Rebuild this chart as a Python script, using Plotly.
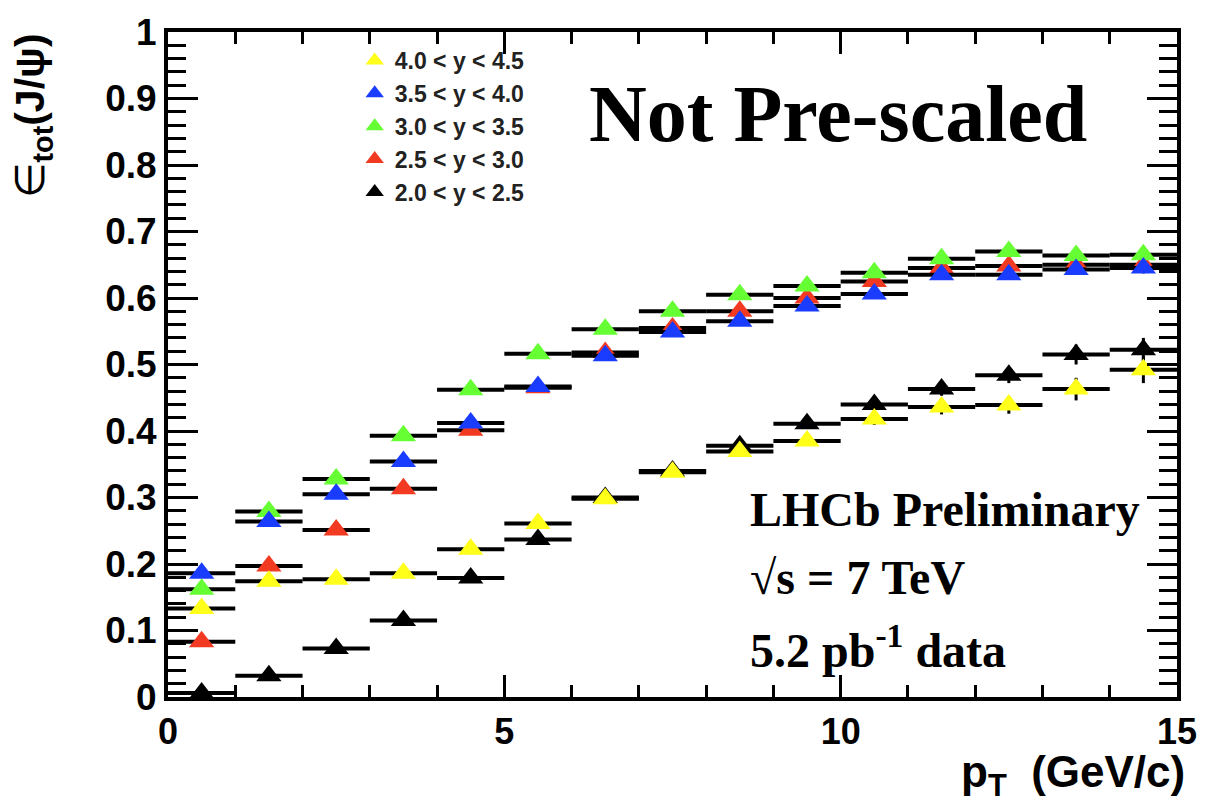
import plotly.graph_objects as go

# ---------------- data ----------------
pt_centers = [0.5, 1.5, 2.5, 3.5, 4.5, 5.5, 6.5, 7.5, 8.5, 9.5, 10.5, 11.5, 12.5, 13.5, 14.5]
pt_halfwidth = [0.5] * 15

eff_y40_45 = [0.133, 0.174, 0.177, 0.186, 0.222, 0.261, 0.298, 0.338, 0.369, 0.385, 0.418, 0.436, 0.439, 0.463, 0.492]
eff_y35_40 = [0.186, 0.264, 0.305, 0.354, 0.412, 0.467, 0.513, 0.549, 0.565, 0.588, 0.606, 0.635, 0.635, 0.643, 0.645]
eff_y30_35 = [0.162, 0.279, 0.328, 0.393, 0.462, 0.516, 0.553, 0.580, 0.605, 0.618, 0.638, 0.659, 0.670, 0.664, 0.665]
eff_y25_30 = [0.083, 0.197, 0.251, 0.313, 0.401, 0.465, 0.518, 0.555, 0.580, 0.600, 0.625, 0.645, 0.648, 0.650, 0.650]
eff_y20_25 = [0.006, 0.032, 0.073, 0.115, 0.179, 0.237, 0.300, 0.340, 0.378, 0.411, 0.440, 0.463, 0.484, 0.515, 0.522]

err_y40_45 = [0.003, 0.002, 0.002, 0.002, 0.003, 0.003, 0.004, 0.005, 0.006, 0.007, 0.009, 0.011, 0.013, 0.017, 0.020]
err_y35_40 = [0.003, 0.002, 0.002, 0.002, 0.002, 0.003, 0.003, 0.003, 0.004, 0.004, 0.005, 0.005, 0.006, 0.007, 0.008]
err_y30_35 = [0.003, 0.002, 0.002, 0.002, 0.002, 0.003, 0.003, 0.003, 0.004, 0.004, 0.005, 0.005, 0.006, 0.007, 0.008]
err_y25_30 = [0.003, 0.002, 0.002, 0.002, 0.002, 0.003, 0.003, 0.003, 0.004, 0.004, 0.005, 0.005, 0.006, 0.007, 0.008]
err_y20_25 = [0.002, 0.002, 0.002, 0.003, 0.003, 0.003, 0.004, 0.005, 0.006, 0.007, 0.008, 0.010, 0.012, 0.015, 0.018]

labels = ["4.0 < y < 4.5", "3.5 < y < 4.0", "3.0 < y < 3.5", "2.5 < y < 3.0", "2.0 < y < 2.5"]
colors = ["#ffff1a", "#1a3cff", "#66ff33", "#f23a22", "#000000"]
series = [eff_y40_45, eff_y35_40, eff_y30_35, eff_y25_30, eff_y20_25]
errors = [err_y40_45, err_y35_40, err_y30_35, err_y25_30, err_y20_25]

SANS = "Liberation Sans, Arial, Helvetica, sans-serif"
SERIF = "Liberation Serif, Times New Roman, serif"

fig = go.Figure()

# draw order: black, red, green, blue, yellow (legend reversed)
for i in [4, 3, 2, 1, 0]:
    fig.add_trace(go.Scatter(
        x=pt_centers, y=series[i], mode="markers", name=labels[i],
        marker=dict(symbol="triangle-up", size=22, color=colors[i], line=dict(width=0)),
        error_x=dict(type="data", array=pt_halfwidth, symmetric=True, color="black", thickness=4, width=0),
        error_y=dict(type="data", array=errors[i], symmetric=True, color="black", thickness=3, width=0),
    ))

L, R, T, B = 168, 25, 27, 110
W, H = 1209, 807
pw, ph = W - L - R, H - T - B

fig.update_layout(
    width=W, height=H,
    margin=dict(l=L, r=R, t=T, b=B, pad=0),
    paper_bgcolor="white", plot_bgcolor="white",
    showlegend=True,
    legend=dict(
        traceorder="reversed",
        x=(356 - L) / pw, xanchor="left",
        y=1 - (34 - T) / ph, yanchor="top",
        bgcolor="rgba(0,0,0,0)",
        font=dict(family=SANS, size=23, color="#222222", weight="bold"),
        itemsizing="trace",
        tracegroupgap=0,
    ),
    xaxis=dict(
        range=[0, 15], showgrid=False, zeroline=False,
        showline=True, linecolor="black", linewidth=4, mirror="ticks",
        ticks="inside", tickcolor="black", tickwidth=3, ticklen=22, dtick=5, tick0=0,
        minor=dict(ticks="inside", dtick=1, ticklen=12, tickwidth=3, tickcolor="black", showgrid=False),
        tickfont=dict(family=SANS, size=36, color="black", weight="bold"),
    ),
    yaxis=dict(
        range=[0, 1], showgrid=False, zeroline=False,
        showline=True, linecolor="black", linewidth=4, mirror="ticks",
        ticks="inside", tickcolor="black", tickwidth=3, ticklen=30, dtick=0.1, tick0=0,
        minor=dict(ticks="inside", dtick=0.02, ticklen=18, tickwidth=3, tickcolor="black", showgrid=False),
        tickfont=dict(family=SANS, size=37, color="black", weight="bold"),
    ),
)

# axis titles
fig.add_annotation(
    xref="paper", yref="paper", x=(1194 - L) / pw, y=-(745 - (H - B)) / ph,
    xanchor="right", yanchor="top", showarrow=False,
    text="<b>p<sub>T</sub>&nbsp;&nbsp;(GeV/c)</b>",
    font=dict(family=SANS, size=44, color="black"),
)
fig.add_annotation(
    xref="paper", yref="paper", x=-(L - 32) / pw, y=1 - (26 - T) / ph,
    xanchor="center", yanchor="top", showarrow=False, textangle=-90,
    text="∈<sub><b>tot</b></sub><b>(J/ψ)</b>",
    font=dict(family=SANS, size=41, color="black"),
)

# text blocks
fig.add_annotation(
    xref="paper", yref="paper", x=(843 - L) / pw, y=1 - (110 - T) / ph,
    xanchor="center", yanchor="middle", showarrow=False,
    text="<b>Not Pre-scaled</b>",
    font=dict(family=SERIF, size=80, color="black"),
)
for txt, yc in [("<b>LHCb Preliminary</b>", 508), ("<b>√s = 7 TeV</b>", 577), ("<b>5.2 pb<sup>-1</sup> data</b>", 647)]:
    fig.add_annotation(
        xref="paper", yref="paper", x=(752 - L) / pw, y=1 - (yc - T) / ph,
        xanchor="left", yanchor="middle", showarrow=False,
        text=txt, font=dict(family=SERIF, size=48, color="black"),
    )

fig.write_html("out.html")
